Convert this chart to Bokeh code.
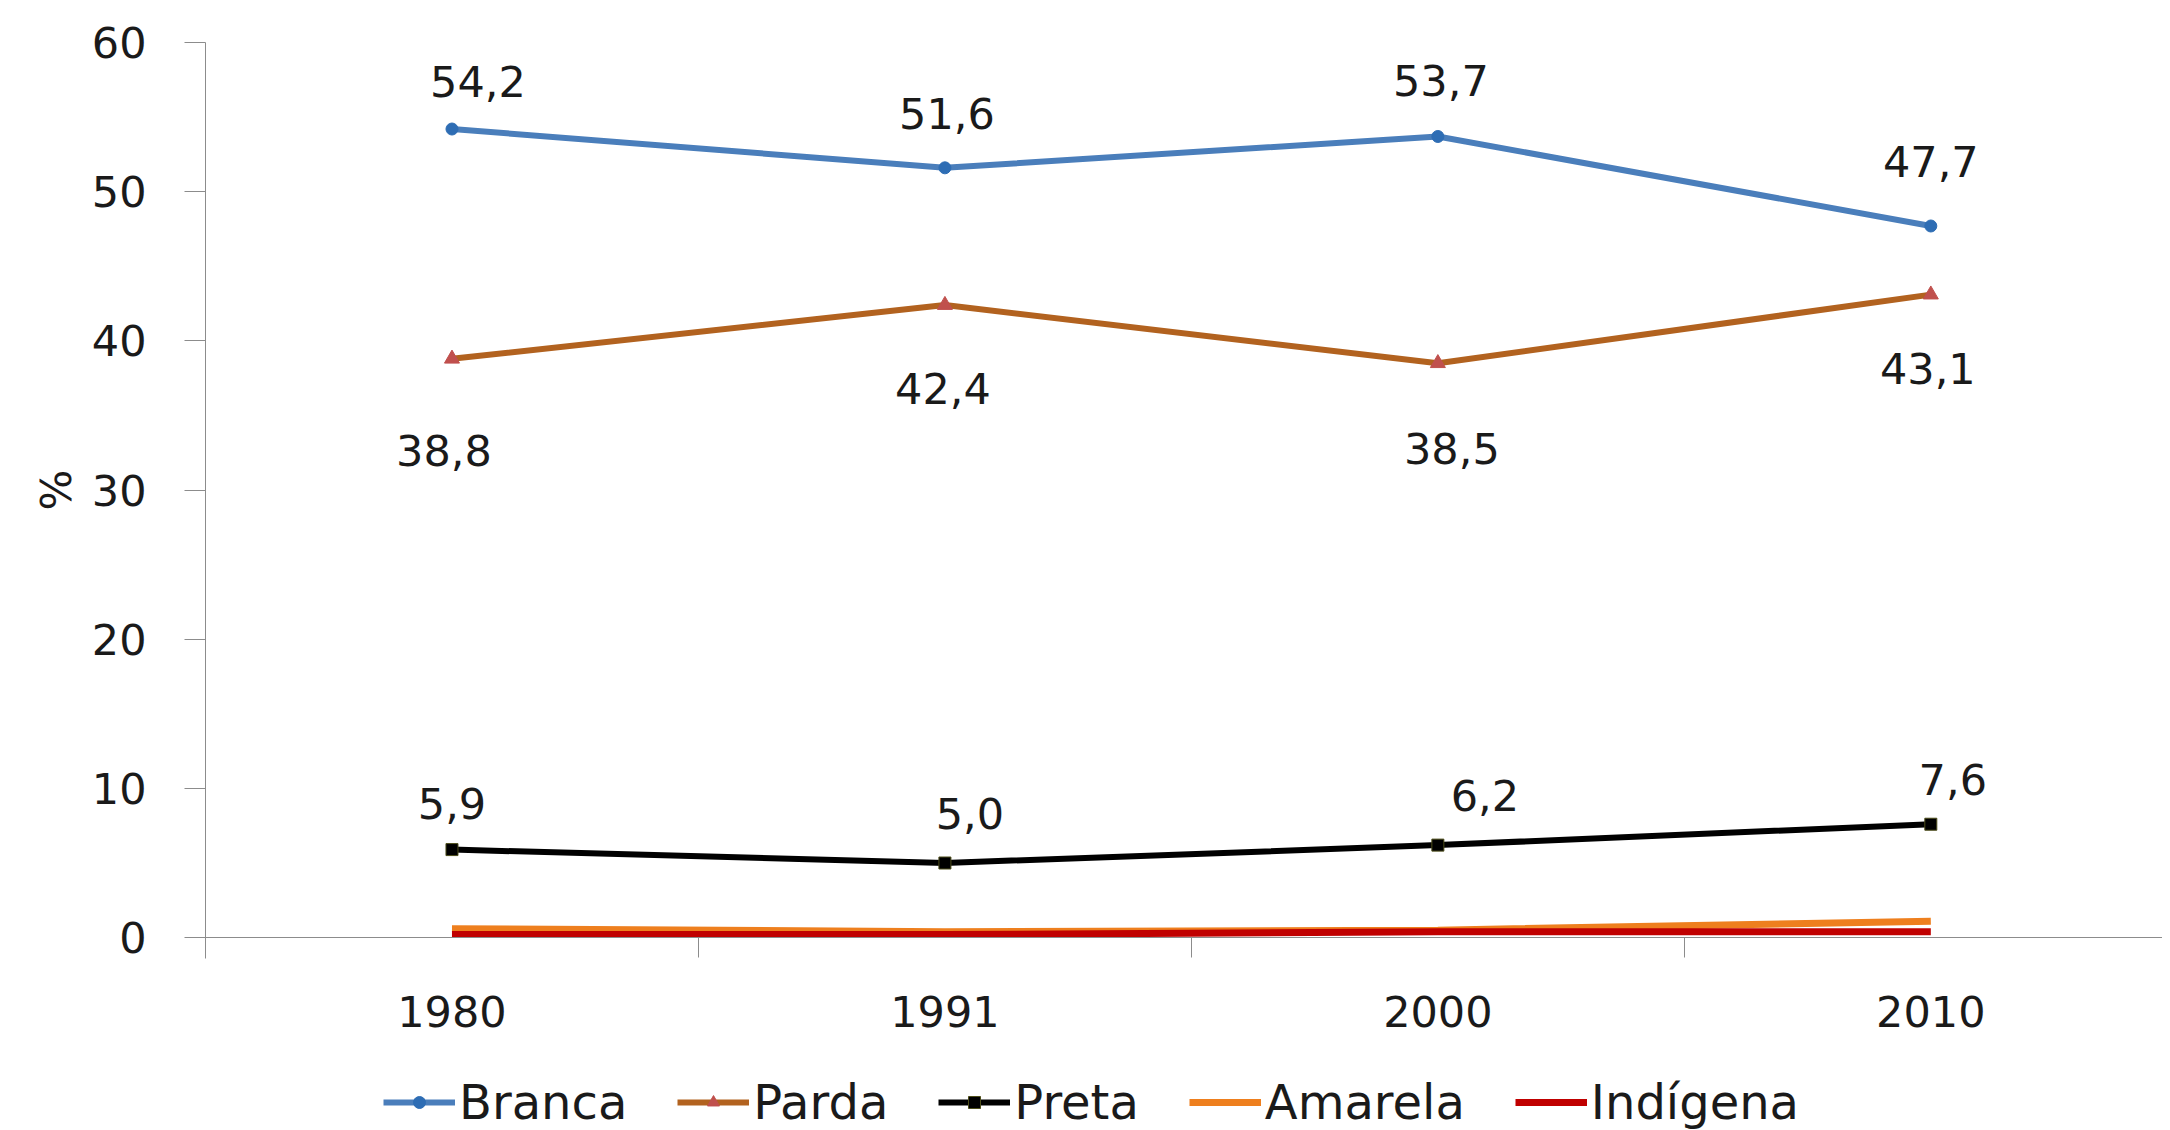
from bokeh.plotting import figure
from bokeh.models import Range1d, FixedTicker, Legend, LegendItem, ColumnDataSource, Title
from bokeh.embed import file_html
from bokeh.resources import INLINE
from bokeh.core.properties import value

# ---- data ----
years = ["1980", "1991", "2000", "2010"]
branca = [54.2, 51.6, 53.7, 47.7]
parda = [38.8, 42.4, 38.5, 43.1]
preta = [5.9, 5.0, 6.2, 7.6]
amarela = [0.6, 0.4, 0.5, 1.1]
indigena = [0.2, 0.2, 0.4, 0.4]
y_ticks = [0, 10, 20, 30, 40, 50, 60]
y_label = "%"

# ---- label offsets (screen px; negative = up) ----
branca_dx = [26, 2, 3, 0]
branca_dy = [-48, -54, -56, -64]
parda_dx = [-8, -2, 14, -3]
parda_dy = [92, 83, 85, 74]
preta_dx = [0, 25, 47, 22]
preta_dy = [-46, -50, -50, -45]

FONT = "DejaVu Sans"
FS = "43px"

xs = [i + 0.5 for i in range(len(years))]


def fmt(v):
    return f"{v:.1f}".replace(".", ",")


# frame reaches the bottom of the canvas so the legend can sit below the x axis
Y_BOTTOM = -12.93

p = figure(
    frame_width=1957, frame_height=1088,
    x_range=Range1d(0, 3.97), y_range=Range1d(Y_BOTTOM, 60),
    output_backend="svg", toolbar_location=None,
    min_border_left=205, min_border_top=42, min_border_right=0, min_border_bottom=0,
    background_fill_color="white", border_fill_color="white",
)
p.outline_line_color = None
p.xgrid.visible = False
p.ygrid.visible = False

# axes
AX = "#8c8c8c"
TXT = "#1a1a1a"
p.yaxis.ticker = FixedTicker(ticks=y_ticks)
p.yaxis.bounds = (-1.4, 60)
p.yaxis.axis_line_color = AX
p.yaxis.major_tick_line_color = AX
p.yaxis.major_tick_out = 21
p.yaxis.major_tick_in = 0
p.yaxis.minor_tick_line_color = None
p.yaxis.major_label_standoff = 38
p.yaxis.major_label_text_font = FONT
p.yaxis.major_label_text_font_size = FS
p.yaxis.major_label_text_color = TXT

# y axis title, placed along the 0..60 part of the axis
ytitle = Title(text=y_label, align="left", offset=620, standoff=15,
               text_font=FONT, text_font_size=FS, text_font_style="normal",
               text_color=TXT)
p.add_layout(ytitle, "left")

p.xaxis.fixed_location = 0
p.xaxis.ticker = FixedTicker(ticks=xs, minor_ticks=[i for i in range(1, len(years))])
p.xaxis.major_label_overrides = {x: y for x, y in zip(xs, years)}
p.xaxis.axis_line_color = AX
p.xaxis.major_tick_line_color = None
p.xaxis.major_tick_out = 0
p.xaxis.major_tick_in = 0
p.xaxis.minor_tick_line_color = AX
p.xaxis.minor_tick_out = 20
p.xaxis.minor_tick_in = 0
p.xaxis.major_label_standoff = 38
p.xaxis.major_label_text_font = FONT
p.xaxis.major_label_text_font_size = FS
p.xaxis.major_label_text_color = TXT

# series
lb = p.line(xs, branca, line_color="#4A7EBB", line_width=6)
sb = p.scatter(xs, branca, marker="circle", size=12, fill_color="#2E6DB4", line_color="#2E6DB4")

lp = p.line(xs, parda, line_color="#B2621F", line_width=6)
sp = p.scatter(xs, parda, marker="triangle", size=15, fill_color="#C0504D", line_color="#C0504D")

lk = p.line(xs, preta, line_color="#000000", line_width=6)
sk = p.scatter(xs, preta, marker="square", size=12, fill_color="#000000", line_color="#4d4d1a")

la = p.line(xs, amarela, line_color="#EE7F1E", line_width=7)
li = p.line(xs, indigena, line_color="#C00000", line_width=7)

# value labels
for vals, dx, dy in ((branca, branca_dx, branca_dy), (parda, parda_dx, parda_dy), (preta, preta_dx, preta_dy)):
    src = ColumnDataSource(dict(x=xs, y=vals, t=[fmt(v) for v in vals], dx=dx, dy=dy))
    p.text("x", "y", text="t", x_offset="dx", y_offset="dy", source=src,
           text_font=value(FONT), text_font_size=FS, text_color=TXT,
           text_align="center", text_baseline="middle")

legend = Legend(items=[
    LegendItem(label="Branca", renderers=[lb, sb]),
    LegendItem(label="Parda", renderers=[lp, sp]),
    LegendItem(label="Preta", renderers=[lk, sk]),
    LegendItem(label="Amarela", renderers=[la]),
    LegendItem(label="Indígena", renderers=[li]),
], orientation="horizontal", location=(178, 0))
legend.label_text_font = FONT
legend.label_text_font_size = "48px"
legend.label_text_color = TXT
legend.glyph_width = 72
legend.glyph_height = 30
legend.label_standoff = 4
legend.spacing = 50
legend.padding = 0
legend.margin = 0
legend.border_line_alpha = 0
legend.background_fill_alpha = 0
p.add_layout(legend, "center")

open("out.html", "w").write(file_html(p, INLINE))
